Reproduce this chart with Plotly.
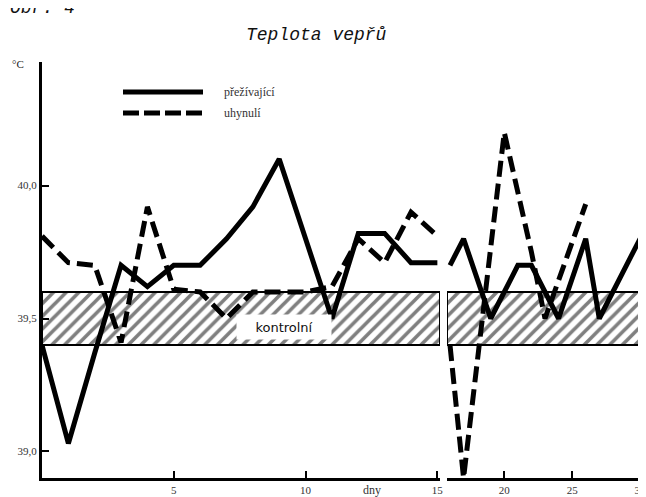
import plotly.graph_objects as go

# ---- data ----
days_a = [0, 1, 2, 3, 4, 5, 6, 7, 8, 9, 10, 11, 12, 13, 14, 15]
surviving_a = [39.4, 39.03, 39.37, 39.7, 39.62, 39.7, 39.7, 39.8, 39.92, 40.1,
               39.8, 39.5, 39.82, 39.82, 39.71, 39.71]
dead_a = [39.81, 39.71, 39.7, 39.41, 39.92, 39.61, 39.6, 39.5, 39.6, 39.6,
          39.6, 39.62, 39.8, 39.71, 39.9, 39.81]

surv_days_b = [16, 17, 19, 21, 22, 24, 26, 27, 30]
surviving_b = [39.7, 39.8, 39.5, 39.7, 39.7, 39.5, 39.8, 39.5, 39.8]
dead_days_b = [16, 17, 20, 21, 22, 23, 26]
dead_b = [39.4, 38.9, 40.2, 39.98, 39.75, 39.5, 39.93]

control_low, control_high = 39.4, 39.6
ytick_vals = [39.0, 39.5, 40.0]
ytick_text = ["39,0", "39,5", "40,0"]
xticks_a = [5, 10, 15]
xticks_b = [20, 25, 30]
range_a = [0, 15.1]
range_b = [15.78, 30]
y_range = [38.9, 40.465]

name_surv = "přežívající"
name_dead = "uhynulí"

# ---- layout geometry (page body adds an 8px offset) ----
OFF = 8
W, H = 646 - OFF, 497 - OFF
L, R, T, B = 42 - OFF, 6, 62 - OFF, 19
PW, PH = W - L - R, H - T - B


def px(xp):  # reference screen pixel -> paper
    return (xp - OFF - L) / PW


def py(yp):
    return (H - B - (yp - OFF)) / PH


dom_a = [0, px(440)]
dom_b = [px(447), 1]

fig = go.Figure()

pattern = dict(shape="/", fgcolor="black", bgcolor="white", size=9, solidity=0.4)

# control bands
for xr, xa in ((range_a, "x"), (range_b, "x2")):
    fig.add_trace(go.Scatter(
        x=[xr[0], xr[1], xr[1], xr[0], xr[0]],
        y=[control_low, control_low, control_high, control_high, control_low],
        xaxis=xa, yaxis="y", mode="lines", fill="toself",
        fillpattern=pattern, fillcolor="white",
        line=dict(color="black", width=2), hoverinfo="skip", showlegend=False))

solid = dict(color="black", width=5)
dashed = dict(color="black", width=5, dash="16px,7px")

fig.add_trace(go.Scatter(x=days_a, y=surviving_a, mode="lines", line=solid,
                         name=name_surv, xaxis="x", yaxis="y", showlegend=False))
fig.add_trace(go.Scatter(x=days_a, y=dead_a, mode="lines", line=dashed,
                         name=name_dead, xaxis="x", yaxis="y", showlegend=False))
fig.add_trace(go.Scatter(x=surv_days_b, y=surviving_b, mode="lines", line=solid,
                         name=name_surv, xaxis="x2", yaxis="y", showlegend=False))
fig.add_trace(go.Scatter(x=dead_days_b, y=dead_b, mode="lines", line=dashed,
                         name=name_dead, xaxis="x2", yaxis="y", showlegend=False))

tickfont = dict(family="Liberation Serif", size=11, color="#333")
xcommon = dict(showline=True, linecolor="black", linewidth=3, ticks="inside",
               ticklen=7, tickwidth=2, tickcolor="black", showgrid=False,
               zeroline=False, tickfont=tickfont, automargin=False)

fig.update_layout(
    width=W, height=H,
    margin=dict(l=L, r=R, t=T, b=B, autoexpand=False),
    paper_bgcolor="white", plot_bgcolor="white",
    xaxis=dict(domain=dom_a, range=range_a, tickvals=xticks_a, anchor="y", **xcommon),
    xaxis2=dict(domain=dom_b, range=range_b, tickvals=xticks_b, anchor="y", **xcommon),
    yaxis=dict(range=y_range, tickvals=ytick_vals, ticktext=ytick_text,
               showline=True, linecolor="black", linewidth=3, ticks="inside",
               ticklen=7, tickwidth=2, tickcolor="black", showgrid=False,
               zeroline=False, tickfont=tickfont, anchor="x", automargin=False),
    showlegend=False,
)

# manual legend
fig.add_shape(type="line", xref="paper", yref="paper", x0=px(123), x1=px(203),
              y0=py(92), y1=py(92), line=dict(color="black", width=5))
fig.add_shape(type="line", xref="paper", yref="paper", x0=px(123), x1=px(203),
              y0=py(113), y1=py(113), line=dict(color="black", width=5, dash="16px,5px"))
legfont = dict(family="Liberation Serif", size=12, color="#333")
fig.add_annotation(text=name_surv, xref="paper", yref="paper", x=px(222), y=py(92),
                   xanchor="left", yanchor="middle", showarrow=False, font=legfont)
fig.add_annotation(text=name_dead, xref="paper", yref="paper", x=px(222), y=py(113),
                   xanchor="left", yanchor="middle", showarrow=False, font=legfont)

# texts
fig.add_annotation(text="Teplota vepřů", xref="paper", yref="paper", x=px(316), y=py(35),
                   xanchor="center", yanchor="middle", showarrow=False,
                   font=dict(family="Liberation Mono", size=18, color="#111", style="italic"))
fig.add_annotation(text="Obr. 4", xref="paper", yref="paper", x=px(8), y=py(8),
                   xanchor="left", yanchor="middle", showarrow=False,
                   font=dict(family="Liberation Mono", size=18, color="#111", style="italic"))
fig.add_annotation(text="°C", xref="paper", yref="paper", x=px(18), y=py(64),
                   xanchor="center", yanchor="middle", showarrow=False,
                   font=dict(family="Liberation Serif", size=11, color="#222"))
fig.add_annotation(text="dny", xref="paper", yref="paper", x=px(372), y=py(490),
                   xanchor="center", yanchor="middle", showarrow=False,
                   font=dict(family="Liberation Serif", size=12, color="#333"))
fig.add_annotation(text="kontrolní", xref="paper", yref="paper", x=px(284), y=py(327),
                   xanchor="center", yanchor="middle", showarrow=False,
                   bgcolor="white", width=92, height=22,
                   font=dict(family="DejaVu Sans", size=13, color="#111"))

fig.write_html("out.html")
